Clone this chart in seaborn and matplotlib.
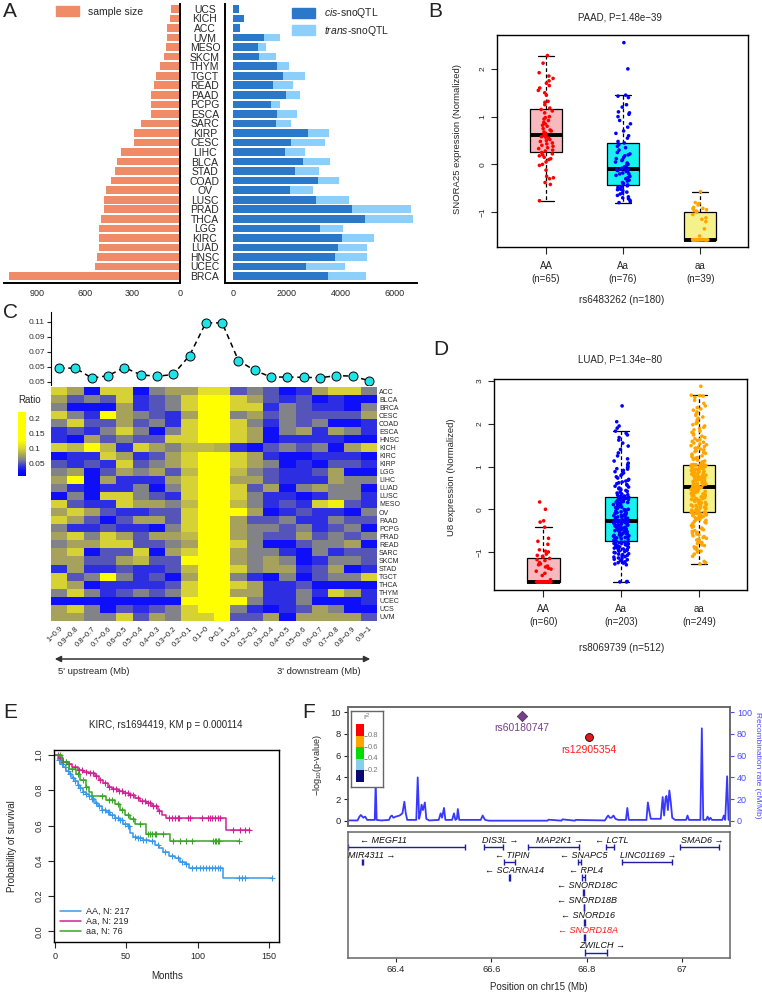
import numpy as np
import pandas as pd
import matplotlib
matplotlib.use("Agg")
import matplotlib.pyplot as plt
import seaborn as sns
from matplotlib.colors import LinearSegmentedColormap
from matplotlib.patches import Patch, FancyArrowPatch

sns.set_style("ticks")
plt.rcParams["font.family"] = ["Liberation Sans", "DejaVu Sans"]
plt.rcParams["mathtext.fontset"] = "custom"
plt.rcParams["mathtext.rm"] = "Liberation Sans"
plt.rcParams["mathtext.it"] = "Liberation Sans:italic"
plt.rcParams["mathtext.default"] = "regular"
plt.rcParams["axes.edgecolor"] = "black"

# ---------------- Panel A data ----------------
cancers_a = ["UCS", "KICH", "ACC", "UVM", "MESO", "SKCM", "THYM", "TGCT", "READ", "PAAD",
             "PCPG", "ESCA", "SARC", "KIRP", "CESC", "LIHC", "BLCA", "STAD", "COAD", "OV",
             "LUSC", "PRAD", "THCA", "LGG", "KIRC", "LUAD", "HNSC", "UCEC", "BRCA"]
sample_size = [57, 66, 79, 83, 87, 98, 124, 151, 162, 180, 181, 185, 245, 292, 292, 371,
               398, 411, 437, 464, 477, 481, 498, 513, 512, 512, 524, 537, 1076]
cis_snoqtl = [220, 400, 245, 1135, 915, 950, 1620, 1855, 1500, 1950, 1415, 1635, 1600, 2770,
              2160, 1930, 2600, 2305, 3135, 2120, 3085, 4390, 4880, 3210, 4050, 3900, 3780,
              2720, 3525]
trans_snoqtl = [0, 0, 0, 610, 305, 660, 440, 830, 720, 550, 330, 745, 550, 780, 1255, 720,
                1010, 890, 795, 855, 1210, 2200, 1770, 850, 1160, 1080, 1200, 1430, 1405]

# ---------------- Panel B / D data ----------------
genotypes = ["AA", "Aa", "aa"]
b_AA = [-0.76, -0.42, -0.38, -0.3, -0.28, -0.25, -0.12, -0.02, 0.0, 0.05, 0.1, 0.12, 0.15,
        0.18, 0.2, 0.22, 0.25, 0.28, 0.3, 0.33, 0.35, 0.38, 0.4, 0.43, 0.45, 0.48, 0.5, 0.52,
        0.55, 0.57, 0.58, 0.6, 0.62, 0.65, 0.68, 0.7, 0.72, 0.75, 0.8, 0.82, 0.85, 0.88, 0.92,
        0.95, 0.98, 1.0, 1.08, 1.12, 1.15, 1.18, 1.25, 1.3, 1.32, 1.45, 1.5, 1.55, 1.6, 1.65,
        1.7, 1.75, 1.8, 1.85, 1.92, 2.12, 2.28]
b_Aa = [-0.8, -0.78, -0.75, -0.72, -0.7, -0.68, -0.65, -0.62, -0.6, -0.58, -0.55, -0.53,
        -0.52, -0.5, -0.5, -0.48, -0.47, -0.46, -0.45, -0.43, -0.4, -0.38, -0.35, -0.33, -0.3,
        -0.28, -0.25, -0.23, -0.2, -0.2, -0.18, -0.15, -0.15, -0.13, -0.12, -0.11, -0.1, -0.1,
        -0.08, -0.05, -0.02, 0.0, 0.03, 0.05, 0.08, 0.1, 0.12, 0.15, 0.18, 0.2, 0.22, 0.25,
        0.3, 0.35, 0.38, 0.42, 0.45, 0.48, 0.55, 0.6, 0.65, 0.7, 0.78, 0.85, 0.92, 1.0, 1.05,
        1.08, 1.1, 1.2, 1.25, 1.4, 1.43, 1.45, 2.0, 2.55]
b_aa = [-1.58, -1.58, -1.58, -1.58, -1.58, -1.58, -1.58, -1.58, -1.58, -1.58, -1.58, -1.58,
        -1.58, -1.58, -1.58, -1.58, -1.58, -1.58, -1.58, -1.58, -1.58, -1.58, -1.5, -1.35,
        -1.2, -1.15, -1.12, -1.05, -1.0, -0.98, -0.97, -0.95, -0.93, -0.92, -0.9, -0.85,
        -0.82, -0.8, -0.57]

d_AA = [-1.7, -1.7, -1.7, -1.7, -1.7, -1.7, -1.7, -1.7, -1.7, -1.7, -1.7, -1.7, -1.7, -1.7,
        -1.7, -1.7, -1.7, -1.7, -1.7, -1.7, -1.7, -1.7, -1.7, -1.7, -1.7, -1.7, -1.7, -1.7,
        -1.7, -1.7, -1.7, -1.65, -1.55, -1.5, -1.45, -1.4, -1.38, -1.35, -1.33, -1.3, -1.28,
        -1.25, -1.2, -1.18, -1.15, -1.12, -1.1, -1.08, -1.05, -1.0, -0.98, -0.95, -0.82,
        -0.75, -0.68, -0.42, -0.3, -0.27, 0.0, 0.17]
d_Aa = [-1.70, -1.70, -1.69, -1.30, -1.28, -1.26, -1.25, -1.23, -1.21, -1.20, -1.18, -1.17,
        -1.15, -1.14, -1.12, -1.11, -1.09, -1.08, -1.06, -1.05, -1.04, -1.02, -1.01, -0.99,
        -0.98, -0.97, -0.96, -0.95, -0.94, -0.93, -0.92, -0.91, -0.90, -0.89, -0.88, -0.87,
        -0.86, -0.85, -0.84, -0.83, -0.82, -0.81, -0.80, -0.80, -0.79, -0.78, -0.77, -0.77,
        -0.76, -0.75, -0.75,
        -0.74, -0.73, -0.72, -0.71, -0.70, -0.69, -0.68, -0.67, -0.66, -0.65, -0.64, -0.63,
        -0.62, -0.61, -0.60, -0.59, -0.58, -0.57, -0.56, -0.55, -0.54, -0.53, -0.52, -0.51,
        -0.50, -0.49, -0.48, -0.47, -0.46, -0.45, -0.44, -0.43, -0.42, -0.41, -0.40, -0.39,
        -0.38, -0.37, -0.36, -0.35, -0.34, -0.33, -0.32, -0.31, -0.30, -0.30, -0.29, -0.29,
        -0.28, -0.28, -0.27,
        -0.26, -0.25, -0.24, -0.22, -0.21, -0.20, -0.19, -0.18, -0.16, -0.15, -0.14, -0.13,
        -0.12, -0.10, -0.09, -0.08, -0.07, -0.06, -0.04, -0.03, -0.02, -0.01, 0.00, 0.02,
        0.03, 0.04, 0.05, 0.06, 0.08, 0.09, 0.10, 0.11, 0.12, 0.14, 0.15, 0.16, 0.17, 0.18,
        0.20, 0.21, 0.22, 0.23, 0.24, 0.25, 0.26, 0.27, 0.28, 0.28, 0.29, 0.29,
        0.30, 0.31, 0.33, 0.34, 0.36, 0.38, 0.40, 0.42, 0.44, 0.46, 0.48, 0.50, 0.52, 0.54,
        0.56, 0.58, 0.60, 0.62, 0.64, 0.66, 0.68, 0.70, 0.73, 0.76, 0.79, 0.82, 0.85, 0.88,
        0.91, 0.94, 0.97, 1.00, 1.04, 1.08, 1.13, 1.18, 1.25, 1.32, 1.40, 1.48, 1.55, 1.62,
        1.68, 1.74, 1.78, 1.83, 1.90, 1.95, 2.05, 2.42, 0.95]
d_aa = [-1.28, -1.25, -1.22, -1.10, -1.05, -1.00, -0.98, -0.95, -0.92, -0.90, -0.88, -0.85,
        -0.83, -0.80, -0.78, -0.76, -0.74, -0.72, -0.70, -0.68, -0.66, -0.64, -0.62, -0.60,
        -0.58, -0.56, -0.54, -0.52, -0.50, -0.48, -0.46, -0.44, -0.42, -0.40, -0.38, -0.36,
        -0.34, -0.32, -0.30, -0.29, -0.27, -0.26, -0.24, -0.23, -0.21, -0.20, -0.19, -0.18,
        -0.17, -0.16, -0.15, -0.14, -0.13, -0.12, -0.11, -0.11, -0.10, -0.10, -0.09, -0.09,
        -0.08, -0.08,
        -0.07, -0.06, -0.05, -0.04, -0.03, -0.02, -0.01, 0.00, 0.01, 0.02, 0.03, 0.04, 0.05,
        0.06, 0.07, 0.08, 0.09, 0.10, 0.11, 0.12, 0.13, 0.14, 0.15, 0.16, 0.17, 0.18, 0.19,
        0.20, 0.21, 0.22, 0.23, 0.24, 0.25, 0.26, 0.27, 0.28, 0.29, 0.30, 0.31, 0.32, 0.33,
        0.34, 0.35, 0.36, 0.37, 0.38, 0.39, 0.40, 0.41, 0.42, 0.43, 0.44, 0.45, 0.46, 0.47,
        0.48, 0.49, 0.50, 0.50, 0.51, 0.51, 0.52,
        0.52, 0.53, 0.54, 0.55, 0.56, 0.57, 0.58, 0.59, 0.60, 0.61, 0.62, 0.63, 0.64, 0.65,
        0.66, 0.67, 0.68, 0.69, 0.70, 0.71, 0.72, 0.73, 0.74, 0.75, 0.76, 0.77, 0.78, 0.79,
        0.80, 0.81, 0.82, 0.83, 0.84, 0.85, 0.86, 0.87, 0.88, 0.89, 0.90, 0.91, 0.92, 0.93,
        0.94, 0.95, 0.96, 0.97, 0.98, 0.99, 1.00, 1.01, 1.01, 1.02, 1.02, 1.02, 1.03, 1.03,
        1.03, 1.04, 1.04, 1.04, 1.04, 1.04, 1.04,
        1.05, 1.07, 1.09, 1.11, 1.13, 1.15, 1.17, 1.19, 1.21, 1.23, 1.25, 1.27, 1.29, 1.31,
        1.33, 1.35, 1.37, 1.39, 1.41, 1.43, 1.45, 1.47, 1.49, 1.51, 1.53, 1.55, 1.57, 1.59,
        1.61, 1.63, 1.65, 1.68, 1.71, 1.74, 1.77, 1.80, 1.83, 1.86, 1.89, 1.92, 1.95, 1.98,
        2.01, 2.04, 2.07, 2.10, 2.13, 2.16, 2.20, 2.24, 2.28, 2.32, 2.35, 2.38, 2.42, 2.48,
        2.55, 2.62, 2.65, 2.66, 2.67, 2.88]

# ---------------- Panel C data ----------------
bin_labels = ["1\u22120.9", "0.9\u22120.8", "0.8\u22120.7", "0.7\u22120.6", "0.6\u22120.5",
              "0.5\u22120.4", "0.4\u22120.3", "0.3\u22120.2", "0.2\u22120.1", "0.1\u22120",
              "0\u22120.1", "0.1\u22120.2", "0.2\u22120.3", "0.3\u22120.4", "0.4\u22120.5",
              "0.5\u22120.6", "0.6\u22120.7", "0.7\u22120.8", "0.8\u22120.9", "0.9\u22121"]
mean_ratio = [0.0485, 0.0485, 0.0353, 0.0384, 0.0493, 0.0397, 0.0375, 0.0401, 0.0652, 0.109,
              0.1087, 0.0586, 0.0454, 0.0366, 0.0366, 0.0362, 0.0357, 0.0384, 0.0379, 0.0318]
cancers_c = ["ACC", "BLCA", "BRCA", "CESC", "COAD", "ESCA", "HNSC", "KICH", "KIRC", "KIRP",
             "LGG", "LIHC", "LUAD", "LUSC", "MESO", "OV", "PAAD", "PCPG", "PRAD", "READ",
             "SARC", "SKCM", "STAD", "TGCT", "THCA", "THYM", "UCEC", "UCS", "UVM"]
ratio = [
    [.10, .08, .025, .10, .10, .025, .065, .08, .08, .11, .11, .052, .065, .052, .025, .04, .08, .10, .10, .065],
    [.08, .052, .065, .052, .10, .04, .052, .065, .10, .18, .18, .10, .08, .052, .04, .052, .025, .04, .025, .025],
    [.065, .025, .025, .025, .08, .04, .052, .065, .10, .18, .18, .10, .10, .04, .065, .052, .04, .04, .025, .065],
    [.10, .065, .04, .15, .08, .065, .052, .04, .08, .18, .18, .065, .08, .052, .065, .052, .052, .052, .052, .08],
    [.065, .10, .052, .052, .08, .052, .065, .04, .10, .18, .18, .10, .065, .04, .065, .052, .065, .025, .025, .04],
    [.04, .052, .04, .065, .10, .065, .025, .065, .10, .18, .18, .10, .08, .025, .065, .08, .04, .08, .065, .04],
    [.04, .025, .08, .052, .065, .052, .052, .10, .10, .18, .18, .10, .08, .025, .04, .04, .04, .04, .025, .025],
    [.10, .09, .15, .09, .04, .10, .08, .065, .09, .09, .085, .04, .025, .052, .065, .052, .065, .025, .08, .10],
    [.025, .04, .04, .10, .08, .04, .052, .08, .10, .18, .18, .10, .08, .04, .025, .025, .04, .04, .04, .025],
    [.052, .04, .052, .04, .10, .052, .065, .08, .10, .18, .18, .10, .08, .065, .025, .04, .025, .052, .052, .04],
    [.065, .08, .025, .052, .08, .065, .08, .052, .09, .18, .18, .09, .065, .052, .04, .04, .052, .08, .025, .025],
    [.08, .15, .025, .08, .04, .04, .04, .08, .10, .18, .18, .08, .08, .052, .04, .04, .04, .08, .065, .065],
    [.065, .04, .025, .04, .04, .065, .025, .065, .10, .18, .18, .10, .052, .08, .025, .065, .08, .065, .065, .025],
    [.025, .065, .025, .10, .10, .065, .052, .04, .10, .18, .18, .10, .065, .04, .04, .025, .04, .065, .065, .04],
    [.10, .052, .04, .04, .10, .08, .08, .065, .09, .18, .18, .09, .065, .04, .052, .04, .10, .12, .052, .04],
    [.08, .10, .08, .052, .04, .04, .052, .052, .10, .18, .18, .15, .08, .025, .04, .052, .04, .04, .025, .065],
    [.10, .08, .052, .025, .052, .08, .08, .052, .10, .18, .18, .08, .052, .052, .065, .04, .04, .065, .052, .052],
    [.065, .04, .04, .052, .04, .04, .025, .065, .10, .18, .18, .08, .065, .065, .052, .065, .04, .052, .065, .025],
    [.08, .10, .065, .10, .08, .052, .08, .08, .09, .13, .13, .08, .065, .052, .052, .08, .052, .065, .052, .065],
    [.065, .08, .08, .10, .10, .052, .052, .065, .08, .18, .18, .10, .065, .025, .025, .052, .065, .065, .08, .025],
    [.08, .10, .025, .052, .052, .10, .025, .08, .10, .18, .18, .08, .065, .065, .04, .025, .065, .04, .052, .052],
    [.08, .08, .052, .052, .08, .09, .052, .052, .15, .18, .18, .08, .065, .08, .065, .025, .04, .065, .065, .052],
    [.04, .08, .04, .04, .052, .04, .04, .052, .09, .18, .18, .10, .065, .08, .08, .04, .052, .08, .025, .04],
    [.10, .052, .065, .16, .065, .04, .052, .025, .08, .18, .18, .065, .04, .025, .065, .025, .052, .065, .065, .10],
    [.10, .08, .025, .04, .04, .04, .04, .052, .10, .18, .18, .10, .08, .04, .04, .052, .025, .025, .025, .025],
    [.065, .10, .065, .04, .052, .065, .052, .065, .10, .18, .18, .08, .08, .04, .04, .065, .04, .10, .08, .04],
    [.025, .025, .025, .025, .025, .025, .025, .025, .15, .18, .18, .15, .065, .04, .04, .065, .025, .025, .025, .04],
    [.08, .10, .065, .025, .052, .04, .052, .065, .10, .14, .18, .065, .04, .025, .04, .052, .08, .065, .025, .025],
    [.08, .08, .065, .065, .10, .052, .08, .065, .10, .10, .18, .052, .052, .08, .025, .08, .08, .08, .08, .052],
]

# ---------------- Panel E data ----------------
km_AA_t = [0, 2, 4, 6, 8, 10, 12, 14, 16, 18, 20, 22, 24, 26, 28, 30, 33, 36, 39, 42, 45, 48,
           51, 53, 55, 58, 62, 66, 70, 73, 76, 80, 84, 88, 91, 94, 118, 152]
km_AA_s = [1.0, .97, .95, .93, .91, .89, .87, .85, .83, .81, .79, .78, .765, .75, .73, .71,
           .69, .675, .66, .645, .63, .61, .595, .56, .535, .53, .52, .51, .49, .47, .45, .43,
           .415, .395, .38, .36, .30, .30]
km_AA_cens = [3, 5, 7, 9, 11, 13, 14, 16, 18, 20, 22, 24, 26, 27, 29, 31, 33, 35, 37, 38, 40,
              42, 44, 46, 47, 49, 51, 52, 56, 58, 60, 62, 64, 68, 72, 77, 82, 86, 89, 92, 96,
              99, 102, 104, 106, 108, 110, 112, 114, 116, 129, 131, 133, 152]
km_Aa_t = [0, 3, 6, 9, 12, 16, 20, 24, 28, 31, 34, 37, 40, 44, 48, 52, 56, 60, 64, 68, 72, 75,
           78, 120, 137]
km_Aa_s = [1.0, .98, .96, .95, .93, .915, .905, .895, .88, .86, .84, .82, .805, .795, .785,
           .775, .755, .74, .725, .71, .685, .66, .64, .575, .575]
km_Aa_cens = [2, 4, 6, 8, 10, 14, 17, 19, 22, 25, 27, 29, 32, 35, 38, 41, 43, 45, 47, 49, 51,
              53, 55, 58, 61, 63, 65, 67, 69, 71, 73, 80, 82, 84, 86, 87, 93, 95, 103, 107,
              109, 110, 112, 114, 116, 125, 130, 133, 136]
km_aa_t = [0, 5, 10, 15, 18, 22, 24, 26, 36, 42, 46, 49, 53, 56, 64, 81, 129]
km_aa_s = [1.0, .96, .92, .89, .86, .82, .79, .765, .745, .72, .69, .66, .635, .61, .55, .51,
           .51]
km_aa_cens = [4, 8, 12, 16, 20, 22, 33, 38, 40, 44, 47, 51, 55, 60, 65, 67, 68, 70, 71, 76,
              83, 88, 92, 96, 111, 112, 113, 114, 115, 129]

# ---------------- Panel F data ----------------
snp_names = ["rs60180747", "rs12905354"]
snp_pos = [66.664, 66.804]
snp_logp = [9.6, 7.7]
recomb_pos = [66.300, 66.320, 66.324, 66.327, 66.332, 66.336, 66.340, 66.356, 66.358, 66.360,
              66.370, 66.386, 66.389, 66.392, 66.395, 66.400, 66.408, 66.414, 66.418, 66.421,
              66.424, 66.443, 66.446, 66.449, 66.452, 66.454, 66.457, 66.461, 66.464, 66.470,
              66.490, 66.494, 66.497, 66.501, 66.504, 66.518, 66.522, 66.525, 66.528, 66.530,
              66.533, 66.578, 66.582, 66.587, 66.595, 66.718, 66.720, 66.747, 66.749, 66.775,
              66.777, 66.838, 66.843, 66.845, 66.848, 66.852, 66.856, 66.860, 66.866, 66.882,
              66.885, 66.888, 66.925, 66.928, 66.931, 66.934, 66.955, 66.959, 66.962, 66.965,
              66.967, 66.970, 66.973, 66.976, 66.979, 66.985, 67.008, 67.011, 67.014, 67.038,
              67.041, 67.044, 67.050, 67.053, 67.056, 67.059, 67.062, 67.084, 67.087, 67.090,
              67.094, 67.097, 67.100]
recomb_rate = [0.5, 0.5, 4, 5.5, 3, 4, 1, 1, 36, 1,
               0.5, 1, 4, 5, 3, 4, 5, 7, 17.7, 7,
               1, 1, 40, 2, 8, 15, 10, 17, 2, 0.5,
               1, 7, 3, 12, 1, 1, 7, 1, 2, 11,
               1, 1, 5, 1, 0.3, 0.3, 1.2, 0.3, 1.5, 0.3,
               1, 0.5, 4, 5, 3, 3, 5, 2, 1, 1,
               12, 1, 1, 17, 9, 2, 2, 22, 5, 21,
               23, 10, 28, 17, 3, 1, 1, 5, 1, 1,
               85, 1, 1, 4, 1, 3, 1, 1, 5, 1,
               41, 1, 1]
gene_names = ["MEGF11", "MIR4311", "DIS3L", "TIPIN", "SCARNA14", "MAP2K1", "SNAPC5", "RPL4",
              "SNORD18C", "SNORD18B", "SNORD16", "SNORD18A", "ZWILCH", "LCTL", "LINC01169",
              "SMAD6"]
gene_start = [66.300, 66.330, 66.585, 66.627, 66.638, 66.678, 66.782, 66.791, 66.793, 66.794,
              66.795, 66.795, 66.796, 66.840, 66.873, 66.995]
gene_end = [66.546, 66.332, 66.625, 66.650, 66.640, 66.784, 66.789, 66.797, 66.794, 66.795,
            66.796, 66.796, 66.842, 66.857, 66.978, 67.076]
gene_strand = ["-", "+", "+", "-", "-", "+", "-", "-", "-", "-", "-", "-", "+", "-", "+", "+"]
gene_row = [1, 2, 1, 2, 3, 1, 2, 3, 4, 5, 6, 7, 8, 1, 2, 1]
gene_label_x = [66.374, 66.350, 66.619, 66.643, 66.648, 66.742, 66.794, 66.798, 66.801,
                66.801, 66.803, 66.803, 66.833, 66.852, 66.929, 67.041]

# ---------------- figure ----------------
W, H = 762, 992
fig = plt.figure(figsize=(W / 100, H / 100), dpi=100)


def rect(x0, y0, x1, y1):
    return [x0 / W, 1 - y1 / H, (x1 - x0) / W, (y1 - y0) / H]


def ftext(x, y, s, **kw):
    fig.text(x / W, 1 - y / H, s, **kw)


for letter, (lx, ly) in zip("ABCDEF", [(3, 2), (428, 2), (3, 303), (433, 340), (3, 703), (302, 703)]):
    ftext(lx, ly, letter, fontsize=15, va="top", ha="left", color="#222")

# ---- A: sample size (left) ----
salmon, cis_col, trans_col = "#F08B67", "#2B77C8", "#8CCFFA"
axL = fig.add_axes(rect(4, 4, 180, 283))
sns.barplot(x=sample_size, y=cancers_a, color=salmon, width=0.8, orient="h", linewidth=0,
            saturation=1, ax=axL)
axL.set_xlim(1110, 0)
axL.set_ylim(28.73, -0.52)
axL.set_xticks([900, 600, 300, 0])
axL.set_yticks([])
axL.set_xlabel("")
axL.set_ylabel("")
for s in ["top", "left"]:
    axL.spines[s].set_visible(False)
for s in ["right", "bottom"]:
    axL.spines[s].set_linewidth(1.4)
axL.tick_params(axis="x", length=0, labelsize=6.5, pad=4)
axL.legend(handles=[Patch(color=salmon, label="sample size")], loc="upper left",
           bbox_to_anchor=(50 / W, 1.0), bbox_transform=fig.transFigure, frameon=False,
           fontsize=7.5, handlelength=2.2, handleheight=1.1, borderaxespad=0.2)

# ---- A: snoQTL counts (right) ----
axR = fig.add_axes(rect(225, 4, 417, 283))
sns.barplot(x=np.add(cis_snoqtl, trans_snoqtl), y=cancers_a, color=trans_col, width=0.8,
            orient="h", linewidth=0, saturation=1, ax=axR)
sns.barplot(x=cis_snoqtl, y=cancers_a, color=cis_col, width=0.8, orient="h", linewidth=0,
            saturation=1, ax=axR)
axR.set_xlim(-296, 6815)
axR.set_ylim(28.73, -0.52)
axR.set_xticks([0, 2000, 4000, 6000])
axR.set_yticks(range(len(cancers_a)))
axR.set_yticklabels(cancers_a, fontsize=7.5)
for lab in axR.get_yticklabels():
    lab.set_ha("center")
axR.tick_params(axis="y", length=0, pad=14.4)
axR.tick_params(axis="x", length=0, labelsize=6.5, pad=4)
axR.set_xlabel("")
axR.set_ylabel("")
for s in ["top", "right"]:
    axR.spines[s].set_visible(False)
for s in ["left", "bottom"]:
    axR.spines[s].set_linewidth(1.4)
axR.legend(handles=[Patch(color=cis_col, label=r"$\it{cis}$-snoQTL"),
                    Patch(color=trans_col, label=r"$\it{trans}$-snoQTL")],
           loc="upper left", bbox_to_anchor=(286 / W, 1.0), bbox_transform=fig.transFigure,
           frameon=False, fontsize=7.5, handlelength=2.2, handleheight=1.1,
           borderaxespad=0.2, labelspacing=0.35)

# ---- B and D: genotype boxplots ----
box_colors = ["#F7B9BD", "#19F0F0", "#F5F28C"]
pt_colors = ["#FF0000", "#0000FF", "#FFA500"]


def geno_box(ax, vals, counts, ylim, yticks):
    df = pd.DataFrame({"genotype": sum([[g] * len(v) for g, v in zip(genotypes, vals)], []),
                       "expr": sum(vals, [])})
    sns.boxplot(data=df, x="genotype", y="expr", order=genotypes, hue="genotype",
                hue_order=genotypes, palette=box_colors, legend=False, width=0.42,
                showfliers=False, linewidth=0.9, linecolor="black", saturation=1,
                whiskerprops={"linestyle": (0, (3, 2))},
                medianprops={"linewidth": 2.8, "color": "black"}, ax=ax)
    sns.stripplot(data=df, x="genotype", y="expr", order=genotypes, hue="genotype",
                  hue_order=genotypes, palette=pt_colors, jitter=0.1, size=2.6,
                  legend=False, zorder=3, ax=ax)
    ax.set_xlim(-0.636, 2.62)
    ax.set_ylim(*ylim)
    ax.set_yticks(yticks)
    ax.set_xticks(range(3))
    ax.set_xticklabels([f"{g}\n(n={n})" for g, n in zip(genotypes, counts)], fontsize=7,
                       linespacing=1.35)
    ax.tick_params(axis="x", length=5, pad=5)
    ax.tick_params(axis="y", length=4, labelsize=6, labelrotation=90)
    for lab in ax.get_yticklabels():
        lab.set_va("center")
    ax.set_xlabel("")
    ax.set_ylabel("")
    for s in ax.spines.values():
        s.set_visible(True)
        s.set_linewidth(1.0)


np.random.seed(7)
axB = fig.add_axes(rect(497, 35, 748, 247))
geno_box(axB, [b_AA, b_Aa, b_aa], [65, 76, 39], (-1.73, 2.71), [-1, 0, 1, 2])
ftext(620, 17, "PAAD, P=1.48e\u221239", ha="center", va="center", fontsize=7)
ftext(457, 139, "SNORA25 expression (Normalized)", rotation=90, ha="center", va="center",
      fontsize=6.8)
ftext(622, 300, "rs6483262 (n=180)", ha="center", va="center", fontsize=7.2)

axD = fig.add_axes(rect(494, 379, 747, 590))
geno_box(axD, [d_AA, d_Aa, d_aa], [60, 203, 249], (-1.89, 3.05), [-1, 0, 1, 2, 3])
ftext(620, 360, "LUAD, P=1.34e\u221280", ha="center", va="center", fontsize=7)
ftext(452, 477, "U8 expression (Normalized)", rotation=90, ha="center", va="center",
      fontsize=6.8)
ftext(622, 648, "rs8069739 (n=512)", ha="center", va="center", fontsize=7.2)

# ---- C: heatmap with mean ratio on top ----
ratio_cmap = LinearSegmentedColormap.from_list(
    "ratio", [(0.0, "#0000FF"), (0.094, "#1212F6"), (0.164, "#3A3AD8"), (0.211, "#6262AA"),
              (0.258, "#82828A"), (0.329, "#A6A25E"), (0.423, "#D6D236"), (0.563, "#FFFF00"),
              (1.0, "#FFFF00")])
axH = fig.add_axes(rect(51, 387, 377, 621))
cax = fig.add_axes(rect(18, 412, 26, 476))
sns.heatmap(np.array(ratio), cmap=ratio_cmap, vmin=0.01, vmax=0.223, ax=axH, cbar_ax=cax,
            xticklabels=bin_labels, yticklabels=cancers_c)
axH.yaxis.tick_right()
axH.set_yticklabels(cancers_c, rotation=0, fontsize=5)
axH.tick_params(axis="y", length=0, pad=1.5)
axH.set_xticklabels(bin_labels, fontsize=5.5)
for lab in axH.get_xticklabels():
    lab.set_rotation(45)
    lab.set_ha("right")
    lab.set_rotation_mode("anchor")
axH.tick_params(axis="x", length=0, pad=3)
cax.set_yticks([0.05, 0.1, 0.15, 0.2])
cax.set_yticklabels(["0.05", "0.1", "0.15", "0.2"], fontsize=6)
cax.tick_params(length=0, pad=2)
ftext(18, 400, "Ratio", fontsize=7, va="center", ha="left")

axT = fig.add_axes(rect(51, 312, 377, 385))
sns.lineplot(x=range(len(mean_ratio)), y=mean_ratio, color="black", linestyle=(0, (3.5, 2.5)),
             linewidth=1.1, marker="o", markersize=6.5, markerfacecolor="#1FE3E8",
             markeredgecolor="black", markeredgewidth=0.7, ax=axT)
axT.set_xlim(-0.5, 19.5)
axT.set_ylim(0.026, 0.1233)
axT.set_xticks([])
axT.set_yticks([0.03, 0.05, 0.07, 0.09, 0.11])
axT.set_yticklabels(["0.05", "0.05", "0.07", "0.09", "0.11"], fontsize=6, color="#333")
axT.tick_params(axis="y", length=3, pad=1.5)
for s in ["top", "right", "bottom"]:
    axT.spines[s].set_visible(False)

fig.add_artist(FancyArrowPatch((52 / W, 1 - 659 / H), (373 / W, 1 - 659 / H),
                               arrowstyle="<|-|>", mutation_scale=9, color="#333", lw=1.1,
                               transform=fig.transFigure))
ftext(58, 672, "5' upstream (Mb)", fontsize=6.8, va="center", ha="left")
ftext(361, 672, "3' downstream (Mb)", fontsize=6.8, va="center", ha="right")

# ---- E: Kaplan-Meier ----
axE = fig.add_axes(rect(54, 750, 279, 942))
km_sets = [(km_AA_t, km_AA_s, km_AA_cens, "#3A98E8", "AA, N: 217"),
           (km_Aa_t, km_Aa_s, km_Aa_cens, "#CF2293", "Aa, N: 219"),
           (km_aa_t, km_aa_s, km_aa_cens, "#3AA526", "aa, N: 76")]
for t, s, cens, col, lab in km_sets:
    sns.lineplot(x=t, y=s, drawstyle="steps-post", color=col, linewidth=1.1, label=lab,
                 estimator=None, sort=False, ax=axE)
    idx = np.searchsorted(t, cens, side="right") - 1
    sns.scatterplot(x=cens, y=np.array(s)[idx], marker="+", color=col, s=22, linewidth=0.8,
                    ax=axE)
axE.set_xlim(-0.5, 157)
axE.set_ylim(-0.06, 1.028)
axE.set_xticks([0, 50, 100, 150])
axE.set_yticks([0, 0.2, 0.4, 0.6, 0.8, 1.0])
axE.set_yticklabels(["0.0", "0.2", "0.4", "0.6", "0.8", "1.0"])
axE.tick_params(axis="both", labelsize=6.5, length=4)
axE.tick_params(axis="y", labelrotation=90)
for lab in axE.get_yticklabels():
    lab.set_va("center")
for sp in axE.spines.values():
    sp.set_visible(True)
    sp.set_linewidth(1.0)
axE.legend(loc="lower left", frameon=False, fontsize=6.5, handlelength=2.3,
           borderaxespad=0.3, labelspacing=0.1, handletextpad=0.6)
ftext(166, 725, "KIRC, rs1694419, KM p = 0.000114", ha="center", va="center", fontsize=7)
ftext(12, 846, "Probability of survival", rotation=90, ha="center", va="center", fontsize=7)
ftext(167, 976, "Months", ha="center", va="center", fontsize=7)

# ---- F: regional association ----
frame_col = "#666666"
rec_col = "#3838FF"
axF = fig.add_axes(rect(348, 707, 730, 826))
axF2 = axF.twinx()
sns.lineplot(x=recomb_pos, y=recomb_rate, color=rec_col, linewidth=1.3, estimator=None,
             sort=False, ax=axF2)
axF2.set_ylim(-4.6, 104.6)
axF2.set_yticks([0, 20, 40, 60, 80, 100])
axF2.tick_params(axis="y", colors="#4A4AFF", labelsize=6.5, length=3, pad=2)
axF2.set_ylabel("")
axF.set_zorder(axF2.get_zorder() + 1)
axF.patch.set_visible(False)
sns.scatterplot(x=snp_pos[:1], y=snp_logp[:1], marker="D", color="#7A3D93", s=28,
                edgecolor="#333", linewidth=0.5, ax=axF)
sns.scatterplot(x=snp_pos[1:], y=snp_logp[1:], marker="o", color="#E31A1C", s=32,
                edgecolor="black", linewidth=0.6, ax=axF)
axF.text(snp_pos[0], 8.5, snp_names[0], color="#7A3D93", ha="center", va="center",
         fontsize=7.5)
axF.text(snp_pos[1], 6.5, snp_names[1], color="#FF1A1A", ha="center", va="center",
         fontsize=7.5)
axF.set_xlim(66.3, 67.1)
axF.set_ylim(-0.46, 10.46)
axF.set_yticks([0, 2, 4, 6, 8, 10])
axF.set_xticks([])
axF.tick_params(axis="y", labelsize=6.8, length=3, pad=2)
for ax_ in (axF, axF2):
    for sp in ax_.spines.values():
        sp.set_visible(True)
        sp.set_color(frame_col)
        sp.set_linewidth(1.1)
ftext(318, 765, r"$-$log$_{10}$(p-value)", rotation=90, ha="center", va="center", fontsize=6.5)
ftext(758, 765, "Recombination rate (cM/Mb)", rotation=270, ha="center", va="center",
      fontsize=6, color="#4A4AFF")

# r^2 legend
axLeg = fig.add_axes(rect(351, 711, 383, 787))
axLeg.set_zorder(axF.get_zorder() + 1)
r2_colors = ["#0A0A70", "#87CEEB", "#00DD00", "#FFA500", "#FF0000"]
axLeg.bar(x=9, height=0.2, bottom=[0, 0.2, 0.4, 0.6, 0.8], width=8, color=r2_colors,
          edgecolor="none")
axLeg.hlines([0.2, 0.4, 0.6, 0.8], 13, 15.5, color="#777", lw=0.6)
for v in [0.2, 0.4, 0.6, 0.8]:
    axLeg.text(16.5, v, f"{v}", fontsize=5.5, color="#777", va="center", ha="left")
axLeg.text(16, 1.12, "r$^2$", fontsize=6, color="#777", va="center", ha="center")
axLeg.set_xlim(0, 32)
axLeg.set_ylim(-0.086, 1.224)
axLeg.set_xticks([])
axLeg.set_yticks([])
for sp in axLeg.spines.values():
    sp.set_visible(True)
    sp.set_color(frame_col)
    sp.set_linewidth(1.0)

# gene track
gene_col = "#1C1CA8"
axG = fig.add_axes(rect(348, 832, 730, 958))
axG.hlines(gene_row, gene_start, gene_end, color=gene_col, lw=1.0)
axG.vlines(gene_start + gene_end, np.array(gene_row + gene_row) - 0.22,
           np.array(gene_row + gene_row) + 0.22, color=gene_col, lw=1.0)
for name, lx, row, strand in zip(gene_names, gene_label_x, gene_row, gene_strand):
    txt = "\u2190 " + name if strand == "-" else name + " \u2192"
    axG.text(lx, row - 0.45, txt, style="italic", fontsize=6.5, ha="center", va="center",
             color="#FF1A1A" if name == "SNORD18A" else "#111")
axG.set_xlim(66.3, 67.1)
axG.set_ylim(8.35, 0)
axG.set_yticks([])
axG.set_xticks([66.4, 66.6, 66.8, 67.0])
axG.set_xticklabels(["66.4", "66.6", "66.8", "67"])
axG.tick_params(axis="x", labelsize=6.8, length=3, pad=2)
for sp in axG.spines.values():
    sp.set_visible(True)
    sp.set_color(frame_col)
    sp.set_linewidth(1.1)
ftext(539, 987, "Position on chr15 (Mb)", ha="center", va="center", fontsize=7)

fig.savefig("out.png", dpi=100)
